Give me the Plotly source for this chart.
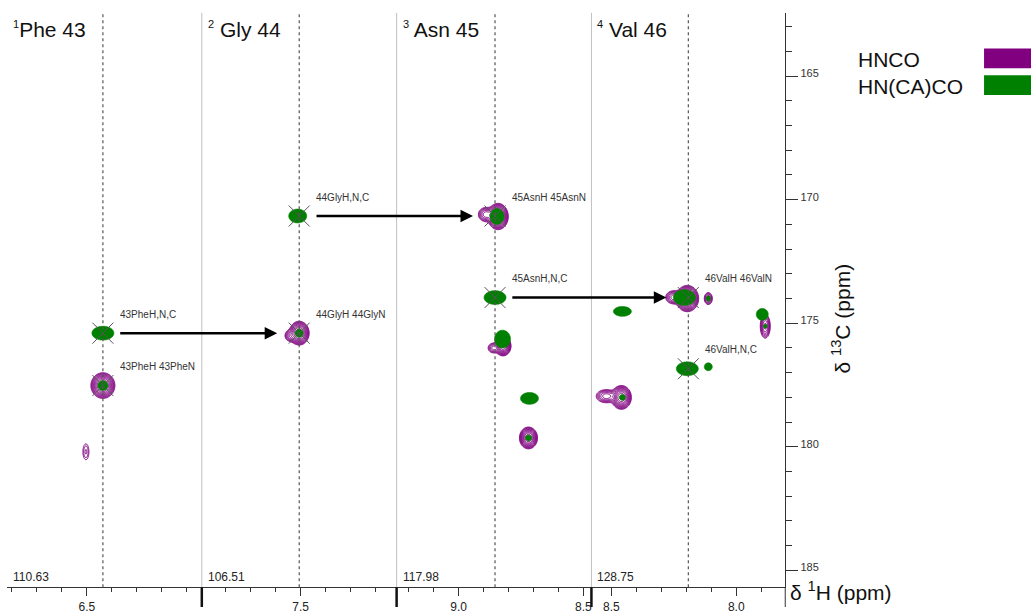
import numpy as np
import plotly.graph_objects as go

W, H = 1032, 614

# ---- sequential walk: one strip per residue --------------------------------
residue_num = [43, 44, 45, 46]
residue_name = ["Phe", "Gly", "Asn", "Val"]
h_shift = [6.436, 7.506, 8.854, 8.192]        # amide 1H of each strip (ppm)
n_shift = [110.63, 106.51, 117.98, 128.75]    # 15N plane of each strip (ppm)
c_own = [175.40, 170.66, 173.96, 176.84]      # HN(CA)CO  -> C'(i)
c_prev = [177.52, 175.40, 170.66, 173.96]     # HNCO      -> C'(i-1)

# ---- HNCO peak list (strip, 1H, 13C, width 1H, width 13C, height) ---------
hnco_strip = [0, 0, 1, 1, 2, 2, 2, 2, 2, 3, 3, 3, 3, 3, 3]
hnco_h = [6.436, 6.504, 7.506, 7.540, 8.842, 8.890, 8.822, 8.860, 8.720,
          8.196, 8.250, 8.112, 7.884, 8.460, 8.520]
hnco_c = [177.52, 180.20, 175.40, 175.50, 170.68, 170.60, 175.92, 176.00,
          179.64, 174.00, 173.95, 174.00, 175.12, 178.00, 177.95]
hnco_wh = [0.0177, 0.0096, 0.0147, 0.0120, 0.0147, 0.0150, 0.0118, 0.0120,
           0.0133, 0.0162, 0.0160, 0.0085, 0.0093, 0.0147, 0.0200]
hnco_wc = [0.191, 0.255, 0.177, 0.120, 0.190, 0.140, 0.147, 0.110, 0.162,
           0.190, 0.130, 0.127, 0.224, 0.177, 0.130]
hnco_amp = [40, 2.2, 40, 6, 50, 8, 40, 5, 40, 50, 8, 6, 10, 40, 8]

# ---- HN(CA)CO peak list ---------------------------------------------------
hncaco_strip = [0, 0, 1, 1, 2, 2, 2, 2, 2, 3, 3, 3, 3, 3, 3, 3, 3]
hncaco_h = [6.436, 6.436, 7.512, 7.506, 8.846, 8.854, 8.824, 8.716, 8.720,
            8.208, 8.112, 8.456, 7.896, 8.196, 8.112, 8.456, 7.884]
hncaco_c = [175.40, 177.52, 170.66, 175.40, 170.68, 173.96, 175.64, 178.04,
            179.64, 173.96, 174.00, 174.52, 174.64, 176.84, 176.76, 178.00,
            175.12]
hncaco_wh = [0.022, 0.010, 0.018, 0.008, 0.014, 0.022, 0.016, 0.018, 0.006,
             0.022, 0.004, 0.018, 0.012, 0.022, 0.008, 0.006, 0.004]
hncaco_wc = [0.14, 0.10, 0.14, 0.08, 0.16, 0.14, 0.18, 0.12, 0.06,
             0.16, 0.06, 0.10, 0.12, 0.14, 0.08, 0.06, 0.04]
hncaco_amp = [7.4] * len(hncaco_h)

PURPLE = "#800080"
GREEN = "#008000"
FONT = "Liberation Sans, Arial, Helvetica, sans-serif"

# strip layout (pixel extents) and 1H window of each strip
strip_px = [(7, 202), (202, 397), (397, 592), (592, 786)]
strip_range = [(6.820, 6.040), (7.896, 7.116), (9.248, 8.468), (8.580, 7.804)]
y_px = (13, 594)
c_range = (185.68, 162.44)


def xa(k):
    return "x" if k == 0 else f"x{k + 1}"


def to_px(k, h):
    lo, hi = strip_range[k]
    a, b = strip_px[k]
    return a + (lo - h) / (lo - hi) * (b - a)


def clusters(hs, cs, whs, wcs):
    boxes = [[h - 4 * wh - 0.015, h + 4 * wh + 0.015,
              c - 4 * wc - 0.25, c + 4 * wc + 0.25]
             for h, c, wh, wc in zip(hs, cs, whs, wcs)]
    merged = True
    while merged:
        merged = False
        out = []
        for b in boxes:
            for o in out:
                if b[0] < o[1] and o[0] < b[1] and b[2] < o[3] and o[2] < b[3]:
                    o[0], o[1] = min(o[0], b[0]), max(o[1], b[1])
                    o[2], o[3] = min(o[2], b[2]), max(o[3], b[3])
                    merged = True
                    break
            else:
                out.append(list(b))
        boxes = out
    return boxes


def spectrum_traces(strip, hs, cs, whs, wcs, amps, kind):
    traces = []
    for k in range(4):
        idx = [i for i, s in enumerate(strip) if s == k]
        if not idx:
            continue
        ph = np.array([hs[i] for i in idx])
        pc = np.array([cs[i] for i in idx])
        pwh = np.array([whs[i] for i in idx])
        pwc = np.array([wcs[i] for i in idx])
        pa = np.array([amps[i] for i in idx])
        for x0, x1, y0, y1 in clusters(ph, pc, pwh, pwc):
            gx = np.arange(x0, x1, 0.0025)
            gy = np.arange(y0, y1, 0.025)
            X, Y = np.meshgrid(gx, gy)
            Z = np.zeros_like(X)
            for h, c, wh, wc, a in zip(ph, pc, pwh, pwc, pa):
                Z += a * np.exp(-0.5 * ((X - h) / wh) ** 2 - 0.5 * ((Y - c) / wc) ** 2)
            L = np.round(np.log(np.maximum(Z, 1e-3)), 3)
            common = dict(x=np.round(gx, 4), y=np.round(gy, 3), z=L,
                          xaxis=xa(k), yaxis="y", showscale=False,
                          hoverinfo="skip", line_smoothing=0.9)
            if kind == "lines":
                traces.append(go.Contour(
                    **common, autocontour=False,
                    contours=dict(start=0, end=4.0, size=0.36, coloring="lines"),
                    colorscale=[[0, PURPLE], [1, PURPLE]],
                    line=dict(width=1)))
            else:
                traces.append(go.Contour(
                    **common,
                    contours=dict(type="constraint", operation="<", value=0),
                    fillcolor=GREEN, line=dict(color=GREEN, width=0.6)))
    return traces


fig = go.Figure()
for t in spectrum_traces(hnco_strip, hnco_h, hnco_c, hnco_wh, hnco_wc, hnco_amp, "lines"):
    fig.add_trace(t)
for t in spectrum_traces(hncaco_strip, hncaco_h, hncaco_c, hncaco_wh, hncaco_wc,
                         hncaco_amp, "fill"):
    fig.add_trace(t)

# assignment crosses
for k in range(4):
    fig.add_trace(go.Scatter(
        x=[h_shift[k], h_shift[k]], y=[c_own[k], c_prev[k]],
        xaxis=xa(k), yaxis="y", mode="markers", hoverinfo="skip",
        marker=dict(symbol="x-thin", size=21,
                    line=dict(width=1, color="#555555"))))

ydom = [1 - y_px[1] / H, 1 - y_px[0] / H]
layout = dict(
    width=W, height=H, margin=dict(l=0, r=0, t=0, b=0),
    paper_bgcolor="white", plot_bgcolor="white", showlegend=False,
    font=dict(family=FONT, color="#222222"),
)
for k in range(4):
    key = "xaxis" if k == 0 else f"xaxis{k + 1}"
    layout[key] = dict(
        domain=[strip_px[k][0] / W, strip_px[k][1] / W],
        range=list(strip_range[k]), anchor="y",
        showgrid=False, zeroline=False, showline=True,
        linecolor="#333333", linewidth=1,
        ticks="outside", ticklen=8, tickcolor="#333333",
        tick0=0, dtick=0.5, tickformat=".1f",
        tickfont=dict(size=12, color="#222222"),
        minor=dict(tick0=0, dtick=0.1, ticks="outside", ticklen=4,
                   tickcolor="#333333", showgrid=False),
    )
layout["yaxis"] = dict(
    domain=ydom, range=list(c_range), anchor="x4", side="right",
    showgrid=False, zeroline=False, showline=True,
    linecolor="#333333", linewidth=1,
    ticks="outside", ticklen=12, tickcolor="#333333",
    tick0=0, dtick=5, tickfont=dict(size=11, color="#333333"),
    ticklabelshift=3,
    minor=dict(tick0=0, dtick=1, ticks="outside", ticklen=6,
               tickcolor="#333333", showgrid=False),
)
fig.update_layout(**layout)

shapes = []
annotations = []
for k in range(4):
    # strip separators and strip-centre guide lines
    if k > 0:
        shapes.append(dict(type="line", xref=f"{xa(k)} domain", yref="y domain",
                           x0=0, x1=0, y0=0, y1=1,
                           line=dict(color="#c0c0c0", width=1)))
        bx = strip_px[k][0] / W
        shapes.append(dict(type="line", xref="paper", yref="paper",
                           x0=bx, x1=bx, y0=0, y1=ydom[0],
                           line=dict(color="#111111", width=2.5)))
    shapes.append(dict(type="line", xref=xa(k), yref="y domain",
                       x0=h_shift[k], x1=h_shift[k], y0=0, y1=1,
                       line=dict(color="#555555", width=1.2, dash="dot")))

    sep = "" if k == 0 else " "
    annotations.append(dict(
        xref=f"{xa(k)} domain", yref="paper", x=0, y=1 - 30 / H,
        xanchor="left", yanchor="middle", xshift=4, showarrow=False,
        text=(f"<sup><span style='font-size:11px'>{k + 1}</span></sup>"
              f"{sep}{residue_name[k]} {residue_num[k]}"),
        font=dict(size=21, color="#111111")))
    annotations.append(dict(
        xref=f"{xa(k)} domain", yref="paper", x=0, y=1 - 584 / H,
        xanchor="left", yanchor="middle", xshift=4, showarrow=False,
        text=f"{n_shift[k]:.2f}", font=dict(size=12, color="#222222")))

    tag = f"{residue_num[k]}{residue_name[k]}"
    for c, txt in ((c_own[k], f"{tag}H,N,C"), (c_prev[k], f"{tag}H {tag}N")):
        annotations.append(dict(
            xref=xa(k), yref="y", x=h_shift[k], y=c, xanchor="left",
            yanchor="middle", xshift=15, yshift=19, showarrow=False,
            text=txt, font=dict(size=10, color="#333333")))

# sequential connectivity arrows: C'(i) -> C'(i-1) of the next residue
for k in range(3):
    head = to_px(k + 1, h_shift[k + 1]) - 22
    tail = to_px(k, h_shift[k]) + 16
    annotations.append(dict(
        xref=xa(k + 1), yref="y", x=h_shift[k + 1], y=c_own[k], xshift=-22,
        text="", showarrow=True, arrowhead=2, arrowsize=1, arrowwidth=2.5,
        arrowcolor="#000000", ax=tail - head, ay=0, axref="pixel",
        ayref="pixel", standoff=0))

# y axis continues below the 1H axis
ax_x = strip_px[3][1] / W
shapes.append(dict(type="line", xref="paper", yref="paper", x0=ax_x, x1=ax_x,
                   y0=0, y1=ydom[0], line=dict(color="#333333", width=1)))

# legend
for i, (lab, col) in enumerate((("HNCO", PURPLE), ("HN(CA)CO", GREEN))):
    top = 49 + 27 * i
    shapes.append(dict(type="rect", xref="paper", yref="paper",
                       x0=985 / W, x1=1.0, y0=1 - (top + 20) / H, y1=1 - top / H,
                       line=dict(width=0), fillcolor=col))
    annotations.append(dict(xref="paper", yref="paper", x=857 / W,
                            y=1 - (top + 11) / H, xanchor="left",
                            yanchor="middle", showarrow=False, text=lab,
                            font=dict(size=21, color="#111111")))

# axis titles
annotations.append(dict(xref="paper", yref="paper", x=842 / W, y=1 - 322 / H,
                        xanchor="center", yanchor="middle", showarrow=False,
                        textangle=-90, text="δ <sup>13</sup>C (ppm)",
                        font=dict(size=21, color="#111111")))
annotations.append(dict(xref="paper", yref="paper", x=789 / W, y=1 - 598 / H,
                        xanchor="left", yanchor="middle", showarrow=False,
                        text="δ <sup>1</sup>H (ppm)",
                        font=dict(size=21, color="#111111")))

fig.update_layout(shapes=shapes, annotations=annotations)
fig.write_html("out.html")
